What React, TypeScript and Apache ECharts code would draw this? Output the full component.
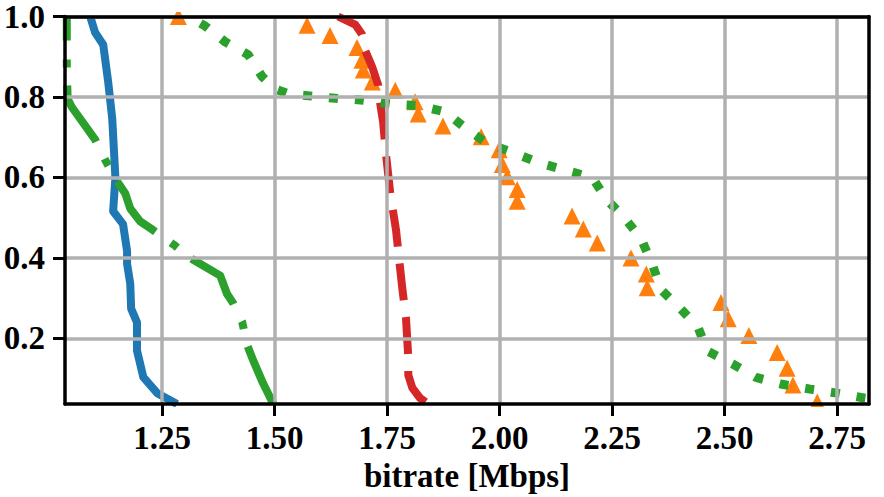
import React, { useEffect, useRef } from "react";
import * as echarts from "echarts";

// Tick labels
const xTicks = [1.25, 1.5, 1.75, 2.0, 2.25, 2.5, 2.75];
const yTicks = [0.2, 0.4, 0.6, 0.8, 1.0];

// Blue solid line
const blueX = [1.09, 1.101, 1.119, 1.13, 1.139, 1.146, 1.141, 1.163, 1.172, 1.172, 1.179, 1.181, 1.194, 1.194, 1.208, 1.239, 1.283];
const blueY = [1.0, 0.96, 0.93, 0.837, 0.746, 0.6, 0.516, 0.484, 0.417, 0.385, 0.336, 0.274, 0.24, 0.17, 0.104, 0.064, 0.037];

// Orange triangles
const orangeX = [1.286, 1.572, 1.623, 1.683, 1.694, 1.697, 1.717, 1.768, 1.812, 1.819, 1.874, 1.959, 1.999, 2.006, 2.017, 2.039, 2.039, 2.161, 2.186, 2.217, 2.292, 2.326, 2.328, 2.492, 2.508, 2.554, 2.617, 2.639, 2.652, 2.706];
const orangeY = [1.0, 0.978, 0.953, 0.923, 0.891, 0.867, 0.837, 0.817, 0.788, 0.758, 0.728, 0.701, 0.669, 0.632, 0.602, 0.57, 0.541, 0.504, 0.472, 0.437, 0.4, 0.36, 0.326, 0.289, 0.249, 0.207, 0.165, 0.126, 0.084, 0.042];

// Green dash-dot line
const greenDashX = [1.038, 1.038, 1.04, 1.049, 1.101, 1.123, 1.15, 1.168, 1.179, 1.201, 1.23, 1.279, 1.312, 1.379, 1.394, 1.408, 1.428, 1.439, 1.452, 1.474, 1.497];
const greenDashY = [1.0, 0.86, 0.795, 0.775, 0.694, 0.644, 0.59, 0.56, 0.523, 0.491, 0.469, 0.43, 0.4, 0.356, 0.311, 0.287, 0.24, 0.183, 0.146, 0.089, 0.037];

// Red dashed line
const redX = [1.641, 1.679, 1.694, 1.701, 1.717, 1.73, 1.734, 1.741, 1.748, 1.757, 1.77, 1.774, 1.783, 1.792, 1.797, 1.797, 1.806, 1.823, 1.841];
const redY = [1.0, 0.98, 0.956, 0.916, 0.874, 0.83, 0.788, 0.738, 0.652, 0.56, 0.467, 0.425, 0.331, 0.249, 0.153, 0.109, 0.077, 0.052, 0.037];

// Green dotted line
const greenDotX = [1.308, 1.346, 1.39, 1.441, 1.472, 1.501, 1.534, 1.634, 1.697, 1.759, 1.823, 1.879, 1.926, 1.972, 2.03, 2.086, 2.146, 2.206, 2.237, 2.277, 2.314, 2.339, 2.359, 2.401, 2.441, 2.461, 2.517, 2.57, 2.628, 2.69, 2.75, 2.81, 2.85];
const greenDotY = [1.0, 0.976, 0.937, 0.905, 0.851, 0.82, 0.807, 0.797, 0.792, 0.782, 0.778, 0.763, 0.721, 0.685, 0.662, 0.637, 0.618, 0.6, 0.546, 0.5, 0.449, 0.385, 0.321, 0.275, 0.228, 0.169, 0.137, 0.103, 0.086, 0.074, 0.064, 0.052, 0.046];

const pairs = (xs: number[], ys: number[]) => xs.map((x, i) => [x, ys[i]]);

const FONT = "Liberation Serif";

export default function App() {
  const ref = useRef<HTMLDivElement>(null);
  useEffect(() => {
    if (!ref.current) return;
    const chart = echarts.init(ref.current, null, { renderer: "svg" });
    const labelStyle = { fontFamily: FONT, fontWeight: "bold" as const, fontSize: 33, color: "#000" };
    const spine = { show: true, onZero: false, lineStyle: { color: "#000", width: 3.5 } };
    chart.setOption({
      animation: false,
      backgroundColor: "#fff",
      grid: { left: 65, right: 15, top: 14, bottom: 92, containLabel: false },
      graphic: [
        // masks so markers are clipped at the frame like the original
        { type: "rect", z: 4.5, silent: true, shape: { x: 63, y: 0, width: 810, height: 12 }, style: { fill: "#fff" } },
        { type: "rect", z: 4.5, silent: true, shape: { x: 63, y: 407, width: 810, height: 14 }, style: { fill: "#fff" } },
      ],
      xAxis: [
        {
          type: "value",
          min: 1.034,
          max: 2.821,
          name: "bitrate [Mbps]",
          nameLocation: "middle",
          nameGap: 55,
          nameTextStyle: { ...labelStyle },
          axisLine: spine,
          axisTick: { show: true, length: 12, lineStyle: { color: "#000", width: 3 }, customValues: xTicks },
          axisLabel: { ...labelStyle, margin: 17, customValues: xTicks, formatter: (v: number) => v.toFixed(2) },
          splitLine: { show: true, lineStyle: { color: "#b0b0b0", width: 3.5 } },
          z: 5,
        },
        {
          type: "value",
          position: "top",
          min: 1.034,
          max: 2.821,
          axisLine: spine,
          axisTick: { show: false },
          axisLabel: { show: false },
          splitLine: { show: false },
          z: 5,
        },
      ],
      yAxis: [
        {
          type: "value",
          min: 0.037,
          max: 1.0,
          axisLine: spine,
          axisTick: { show: true, length: 12, lineStyle: { color: "#000", width: 3 }, customValues: yTicks },
          axisLabel: { ...labelStyle, lineHeight: 28, margin: 20, customValues: yTicks, formatter: (v: number) => v.toFixed(1) },
          splitLine: { show: true, lineStyle: { color: "#b0b0b0", width: 3.5 } },
          z: 5,
        },
        {
          type: "value",
          position: "right",
          min: 0.037,
          max: 1.0,
          axisLine: spine,
          axisTick: { show: false },
          axisLabel: { show: false },
          splitLine: { show: false },
          z: 5,
        },
      ],
      series: [
        {
          type: "line",
          data: pairs(blueX, blueY),
          showSymbol: false,
          lineStyle: { color: "#1f77b4", width: 8, cap: "butt", join: "round" },
          z: 2,
        },
        {
          type: "scatter",
          data: pairs(orangeX, orangeY),
          symbol: "triangle",
          symbolSize: 17,
          itemStyle: { color: "#ff7f0e", opacity: 1 },
          z: 3,
        },
        {
          type: "line",
          data: pairs(greenDashX, greenDashY),
          showSymbol: false,
          lineStyle: { color: "#2ca02c", width: 8, type: [65, 19, 8, 18], dashOffset: 41, cap: "butt", join: "round" },
          z: 3,
        },
        {
          type: "line",
          data: pairs(redX, redY),
          showSymbol: false,
          lineStyle: { color: "#d62728", width: 8, type: [37, 17], dashOffset: 6, cap: "butt", join: "round" },
          z: 4,
        },
        {
          type: "line",
          data: pairs(greenDotX, greenDotY),
          showSymbol: false,
          lineStyle: { color: "#2ca02c", width: 9, type: [9, 17], dashOffset: 11.5, cap: "butt", join: "round" },
          z: 4,
        },
      ],
    });
    return () => chart.dispose();
  }, []);
  return (
    <div
      ref={ref}
      style={{ position: "fixed", left: 0, top: 0, width: 884, height: 497, background: "#fff" }}
    />
  );
}
